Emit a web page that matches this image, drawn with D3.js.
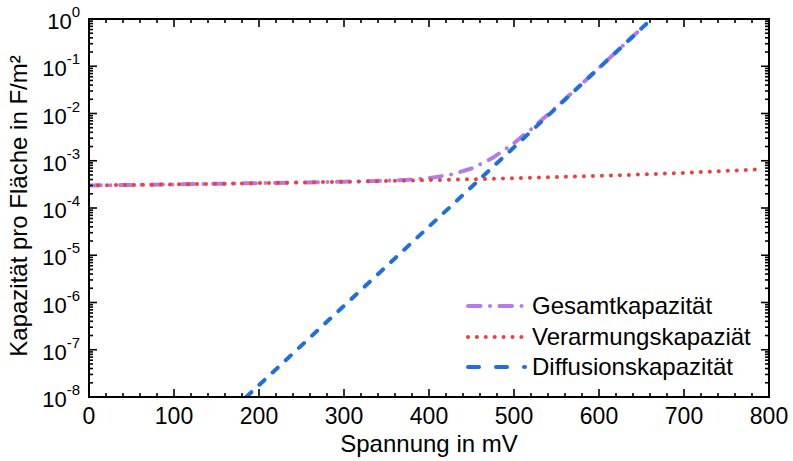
<!DOCTYPE html>
<html><head><meta charset="utf-8">
<script src="https://cdn.jsdelivr.net/npm/d3@7"></script>
<style>body{margin:0;background:#fff}svg{display:block}text{font-family:"Liberation Sans",Arial,sans-serif;fill:#000}</style>
</head><body><svg id="c" width="793" height="461"></svg>
<script>
// Data (voltage in mV, capacitance in F/m²)
const depV = [0,50,100,150,200,250,300,350,400,450,500,550,600,650,700,750,785];
const depC = [3.00e-4,3.08e-4,3.16e-4,3.26e-4,3.36e-4,3.47e-4,3.59e-4,3.73e-4,3.89e-4,4.06e-4,4.26e-4,4.50e-4,4.78e-4,5.12e-4,5.54e-4,6.09e-4,6.55e-4];
const diffV = [185,200,225,250,275,300,325,350,375,400,425,450,475,500,525,550,575,600,625,650,662];
const diffC = [1.0e-8,1.79e-8,4.69e-8,1.23e-7,3.24e-7,8.5e-7,2.23e-6,5.87e-6,1.54e-5,4.05e-5,1.06e-4,2.79e-4,7.35e-4,1.93e-3,5.07e-3,1.33e-2,3.50e-2,9.19e-2,0.241,0.634,1.0];
const totV = [0,50,100,150,200,250,300,325,350,375,400,425,450,475,500,525,550,575,600,625,645];
const totC = [3.00e-4,3.08e-4,3.16e-4,3.26e-4,3.36e-4,3.47e-4,3.60e-4,3.68e-4,3.79e-4,3.96e-4,4.30e-4,5.03e-4,6.85e-4,1.15e-3,2.36e-3,5.51e-3,1.38e-2,3.54e-2,9.24e-2,0.242,0.523];
const xTicks = [0,100,200,300,400,500,600,700,800];
const yExps = [0,-1,-2,-3,-4,-5,-6,-7,-8];
const seriesNames = ["Gesamtkapazität","Verarmungskapaziät","Diffusionskapazität"];

const L=89,R=769,T=19,B=397;
const svg=d3.select("#c");
const x=d3.scaleLinear().domain([0,800]).range([L,R]);
const y=d3.scaleLog().domain([1e-8,1]).range([B,T]);

svg.append("defs").append("clipPath").attr("id","clip").append("rect")
  .attr("x",L).attr("y",T).attr("width",R-L).attr("height",B-T);

const line=d3.line().x(d=>x(d[0])).y(d=>y(d[1]));
const styles=[
  {c:"#b27ee3",w:4,da:"12,9.5,0,9.5",lda:"12.5,9.5,0,9.5",data:d3.zip(totV,totC)},
  {c:"#f23b3b",w:4,da:"0,9",lda:"0,8.9",data:d3.zip(depV,depC)},
  {c:"#1f70dd",w:4,da:"7,11",lda:"11,17",data:d3.zip(diffV,diffC)}
];
const g=svg.append("g").attr("clip-path","url(#clip)");
[0,1,2].forEach(i=>{
  const s=styles[i];
  g.append("path").attr("d",line(s.data)).attr("fill","none")
   .attr("stroke",s.c).attr("stroke-width",s.w).attr("stroke-dasharray",s.da)
   .attr("stroke-linecap","round");
});

// Axes: ticks pointing inward
const minorX=d3.range(0,801,20);
const ax=svg.append("g").attr("stroke","#000").attr("stroke-width",1.6);
minorX.forEach(v=>{
  const major=v%100===0, len=major?8:4;
  ax.append("line").attr("x1",x(v)).attr("x2",x(v)).attr("y1",B).attr("y2",B-len);
  ax.append("line").attr("x1",x(v)).attr("x2",x(v)).attr("y1",T).attr("y2",T+len);
});
yExps.forEach(e=>{
  const v=Math.pow(10,e);
  ax.append("line").attr("x1",L).attr("x2",L+8).attr("y1",y(v)).attr("y2",y(v));
  ax.append("line").attr("x1",R).attr("x2",R-8).attr("y1",y(v)).attr("y2",y(v));
  if(e>-8){
    for(let k=2;k<10;k++){
      const yy=y(k*v/10);
      ax.append("line").attr("x1",L).attr("x2",L+4).attr("y1",yy).attr("y2",yy);
      ax.append("line").attr("x1",R).attr("x2",R-4).attr("y1",yy).attr("y2",yy);
    }
  }
});
svg.append("rect").attr("x",L).attr("y",T).attr("width",R-L).attr("height",B-T)
  .attr("fill","none").attr("stroke","#000").attr("stroke-width",2);

// tick labels
xTicks.forEach(v=>{
  svg.append("text").attr("x",x(v)).attr("y",424).attr("text-anchor","middle")
    .attr("font-size",23).text(v);
});
yExps.forEach(e=>{
  const t=svg.append("text").attr("x",80).attr("y",y(Math.pow(10,e))+10).attr("text-anchor","end").attr("font-size",22);
  t.append("tspan").text("10");
  t.append("tspan").attr("dy",-12).attr("font-size",15).text(e);
});

// axis titles
svg.append("text").attr("x",(L+R)/2).attr("y",452).attr("text-anchor","middle").attr("font-size",24).text("Spannung in mV");
svg.append("text").attr("transform",`translate(27,206) rotate(-90)`).attr("text-anchor","middle")
  .attr("font-size",24).text("Kapazität pro Fläche in F/m²");

// legend
const ly=[306,337,367];
seriesNames.forEach((n,i)=>{
  const s=styles[i];
  svg.append("line").attr("x1",468).attr("x2",525).attr("y1",ly[i]).attr("y2",ly[i])
    .attr("stroke",s.c).attr("stroke-width",s.w).attr("stroke-dasharray",s.lda).attr("stroke-linecap","round");
  svg.append("text").attr("x",532).attr("y",ly[i]+8).attr("font-size",24).text(n);
});
</script></body></html>
